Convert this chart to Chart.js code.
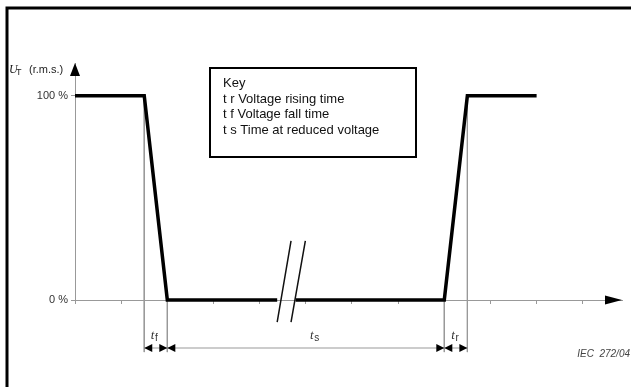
<!DOCTYPE html>
<html>
<head>
<meta charset="utf-8">
<script src="https://cdn.jsdelivr.net/npm/chart.js@4/dist/chart.umd.min.js"></script>
<style>
  body { margin: 0; background: #fff; }
  #wrap { width: 631px; height: 387px; position: relative; }
</style>
</head>
<body>
<div id="wrap"><canvas id="dipChart"></canvas></div>
<script>
// voltage dip waveform (x in time units, y in % of U_T)
const waveX = [0, 1.5, 2, 4.38, null, 4.78, 8, 8.5, 10];
const waveY = [100, 100, 0, 0, null, 0, 0, 100, 100];

// the "//" break marks on the time axis
const breakX = [4.38, 4.68, null, 4.68, 4.99];
const breakY = [-10.8, 28.9, null, -10.8, 28.9];

// axis ticks and labels
const xTicks = [0, 1, 2, 3, 4, 5, 6, 7, 8, 9, 10, 11];
const yTicks = [0, 100];
const yTickLabels = ['0 %', '100 %'];

// dimension spans (start, end) and their labels
const dimSpans = [[1.5, 2], [2, 8], [8, 8.5]];
const dimNames = ['f', 's', 'r'];
const dimLabelX = [1.72, 5.17, 8.23];
const dimLevel = -23.5;   // height of the dimension line
const dimBottom = -25.5;  // where the extension lines stop
const extX = [1.5, 2, 8, 8.5];
const extTop = [100, 0, 0, 100];

const keyLines = ['Key', 't r Voltage rising time', 't f Voltage fall time', 't s Time at reduced voltage'];

function toPoints(xs, ys) {
  return xs.map((x, i) => ({ x: x === null ? NaN : x, y: ys[i] }));
}

// extension lines as one broken line
const extPts = [];
extX.forEach((x, i) => {
  extPts.push({ x: x, y: extTop[i] }, { x: x, y: dimBottom }, { x: NaN, y: null });
});
const dimPts = [{ x: dimSpans[0][0], y: dimLevel }, { x: dimSpans[dimSpans.length - 1][1], y: dimLevel }];

Chart.defaults.font.family = '"Liberation Sans", Arial, sans-serif';

const overlay = {
  id: 'overlay',
  afterDraw(chart) {
    const c = chart.ctx, xs = chart.scales.x, ys = chart.scales.y;
    const area = chart.chartArea;
    c.save();

    // outer frame (top and left only)
    c.strokeStyle = '#000';
    c.lineWidth = 3;
    c.beginPath();
    c.moveTo(631, 8); c.lineTo(7, 8); c.lineTo(7, 387);
    c.stroke();

    c.fillStyle = '#000';
    // y axis arrow
    c.beginPath();
    c.moveTo(area.left, area.top);
    c.lineTo(area.left - 5, area.top + 13);
    c.lineTo(area.left + 5, area.top + 13);
    c.closePath(); c.fill();
    // x axis arrow
    c.beginPath();
    c.moveTo(area.right, area.bottom);
    c.lineTo(area.right - 17, area.bottom - 4.5);
    c.lineTo(area.right - 17, area.bottom + 4.5);
    c.closePath(); c.fill();

    // dimension arrowheads
    const yd = ys.getPixelForValue(dimLevel);
    dimSpans.forEach(([a, b]) => {
      const pa = xs.getPixelForValue(a), pb = xs.getPixelForValue(b);
      c.beginPath();
      c.moveTo(pa, yd); c.lineTo(pa + 8, yd - 4); c.lineTo(pa + 8, yd + 4);
      c.closePath(); c.fill();
      c.beginPath();
      c.moveTo(pb, yd); c.lineTo(pb - 8, yd - 4); c.lineTo(pb - 8, yd + 4);
      c.closePath(); c.fill();
    });

    // dimension labels t_f, t_s, t_r
    c.fillStyle = '#333';
    c.textBaseline = 'alphabetic';
    const yl = ys.getPixelForValue(-17.2) + 4;
    dimNames.forEach((n, i) => {
      const px = xs.getPixelForValue(dimLabelX[i]);
      c.font = 'italic 13px "Liberation Serif", serif';
      c.textAlign = 'right';
      c.fillText('t', px, yl);
      c.font = '10px "Liberation Sans", Arial';
      c.textAlign = 'left';
      c.fillText(n, px + 0.5, yl + 2);
    });

    // y axis title U_T (r.m.s.)
    c.fillStyle = '#222';
    c.textAlign = 'left';
    c.font = 'italic 12px "Liberation Serif", serif';
    c.fillText('U', 9, 73);
    c.font = '9px "Liberation Sans", Arial';
    c.fillText('T', 16, 75);
    c.font = '11px "Liberation Sans", Arial';
    c.fillText('(r.m.s.)', 29, 73);

    // key box
    c.strokeStyle = '#000';
    c.lineWidth = 2;
    c.strokeRect(210, 68, 206, 89);
    c.fillStyle = '#111';
    c.font = '13px "Liberation Sans", Arial';
    keyLines.forEach((t, i) => c.fillText(t, 223, 87 + i * 15.6));

    // figure reference
    c.fillStyle = '#444';
    c.font = 'italic 10px "Liberation Sans", Arial';
    c.textAlign = 'right';
    c.fillText('IEC  272/04', 630, 357);

    c.restore();
  }
};

new Chart(document.getElementById('dipChart'), {
  type: 'line',
  data: {
    datasets: [
      { data: toPoints(waveX, waveY), borderColor: '#000', borderWidth: 3.5, pointRadius: 0, spanGaps: false, clip: false, borderJoinStyle: 'miter' },
      { data: toPoints(breakX, breakY), borderColor: '#111', borderWidth: 1.5, pointRadius: 0, spanGaps: false, clip: false },
      { data: extPts, borderColor: '#999', borderWidth: 1, pointRadius: 0, spanGaps: false, clip: false },
      { data: dimPts, borderColor: '#999', borderWidth: 1, pointRadius: 0, clip: false }
    ]
  },
  options: {
    responsive: true,
    maintainAspectRatio: false,
    animation: false,
    layout: { padding: { top: 63, right: 9, left: 0, bottom: 0 } },
    plugins: { legend: { display: false }, tooltip: { enabled: false } },
    scales: {
      x: {
        type: 'linear', min: 0, max: 11.85,
        afterBuildTicks: s => { s.ticks = xTicks.map(v => ({ value: v })); },
        afterFit: s => { s.height = 87; },
        ticks: { display: false },
        grid: { drawOnChartArea: false, drawTicks: true, tickLength: 4, color: '#999' },
        border: { display: true, color: '#999', width: 1 }
      },
      y: {
        type: 'linear', min: 0, max: 116,
        afterBuildTicks: s => { s.ticks = yTicks.map(v => ({ value: v })); },
        afterFit: s => { s.width = 75; },
        ticks: {
          padding: 3, color: '#333', font: { size: 11 },
          callback: (v) => yTickLabels[yTicks.indexOf(v)]
        },
        grid: { drawOnChartArea: false, drawTicks: true, tickLength: 4, color: '#999' },
        border: { display: true, color: '#999', width: 1 }
      }
    }
  },
  plugins: [overlay]
});
</script>
</body>
</html>
